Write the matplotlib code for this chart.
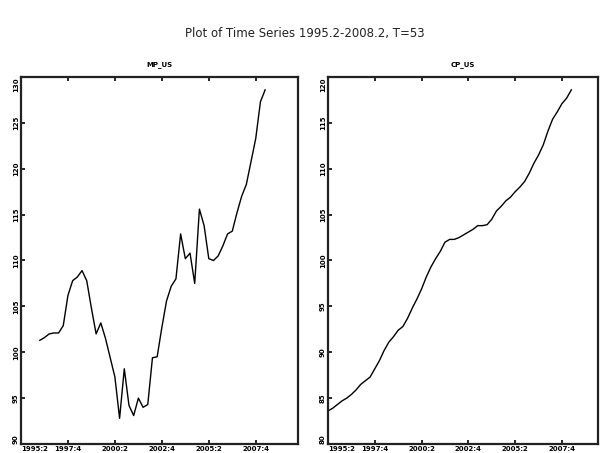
import matplotlib
matplotlib.use("Agg")
import matplotlib.pyplot as plt

# quarterly observations 1995:2 - 2008:2 (T=53), index 0..52
tick_pos = [0, 10, 20, 30, 40, 50]
tick_labels = ["1995:2", "1997:4", "2000:2", "2002:4", "2005:2", "2007:4"]

# left series starts at 1996:2 (index 4)
left_name = "MP_US"
left_start = 4
left_values = [
    101.3, 101.6, 102.0, 102.1, 102.1, 102.9, 106.2, 107.8, 108.2, 108.9,
    107.8, 104.8, 102.0, 103.2, 101.5, 99.4, 97.3, 92.8, 98.2, 94.2,
    93.1, 95.0, 94.0, 94.3, 99.4, 99.5, 102.7, 105.6, 107.2, 108.0,
    112.9, 110.2, 110.8, 107.5, 115.6, 113.8, 110.2, 110.0, 110.5, 111.6,
    112.9, 113.2, 115.2, 117.0, 118.3, 120.8, 123.3, 127.3, 128.6,
]
left_yticks = [90, 95, 100, 105, 110, 115, 120, 125, 130]

right_name = "CP_US"
right_values = [
    83.6, 83.9, 84.3, 84.7, 85.0, 85.4, 85.9, 86.5, 86.9, 87.3,
    88.2, 89.1, 90.2, 91.1, 91.7, 92.4, 92.8, 93.7, 94.8, 95.8,
    96.9, 98.2, 99.3, 100.2, 101.0, 102.0, 102.3, 102.3, 102.5, 102.8,
    103.1, 103.4, 103.8, 103.8, 103.9, 104.5, 105.4, 105.9, 106.5, 106.9,
    107.5, 108.0, 108.6, 109.5, 110.6, 111.5, 112.6, 114.1, 115.4, 116.2,
    117.1, 117.7, 118.6,
]
right_yticks = [80, 85, 90, 95, 100, 105, 110, 115, 120]

W, H = 601, 453
fig = plt.figure(figsize=(W / 100, H / 100), dpi=100)
fig.text(305 / W, 1 - 33 / H, "Plot of Time Series 1995.2-2008.2, T=53",
         ha="center", va="center", fontsize=8.5, color="#222222")


def style_axes(ax, title, yticks, xmax):
    ax.set_xlim(0, xmax)
    ax.set_ylim(yticks[0], yticks[-1])
    ax.set_xticks(tick_pos)
    ax.set_xticklabels(tick_labels, fontsize=5, fontweight="bold")
    ax.set_yticks(yticks)
    ax.set_yticklabels([str(v) for v in yticks], fontsize=5,
                       fontweight="bold", rotation=90, va="center")
    ax.tick_params(direction="in", length=3, width=1.2, pad=1.5,
                   top=True, right=False)
    # keep the corner labels apart
    ax.get_xticklabels()[0].set_ha("left")
    ax.get_yticklabels()[0].set_va("bottom")
    ax.get_yticklabels()[-1].set_va("top")
    for s in ax.spines.values():
        s.set_linewidth(1.6)
        s.set_color("#222222")
    ax.set_title(title, fontsize=5, fontweight="bold", pad=8)


ax1 = fig.add_axes([21 / W, 9 / H, 277 / W, 367 / H])
x_left = list(range(left_start, left_start + len(left_values)))
ax1.plot(x_left, left_values, color="black", lw=1.0)
style_axes(ax1, left_name, left_yticks, 59)

ax2 = fig.add_axes([328 / W, 9 / H, 270 / W, 367 / H])
ax2.plot(range(len(right_values)), right_values, color="black", lw=1.0)
style_axes(ax2, right_name, right_yticks, 57.7)

fig.savefig("out.png", dpi=100)
